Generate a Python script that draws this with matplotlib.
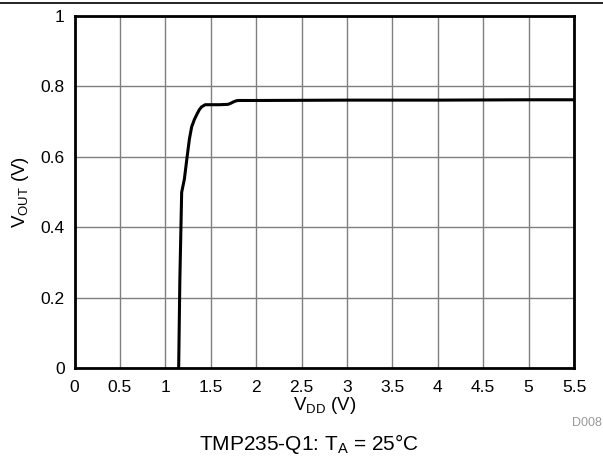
import matplotlib
matplotlib.use("Agg")
import matplotlib.pyplot as plt
from matplotlib.lines import Line2D

plt.rcParams['font.family'] = ['Liberation Sans', 'DejaVu Sans']
plt.rcParams['mathtext.fontset'] = 'custom'
plt.rcParams['mathtext.rm'] = 'Liberation Sans'
plt.rcParams['mathtext.it'] = 'Liberation Sans'

vdd = [1.147, 1.16, 1.18, 1.21, 1.24, 1.265, 1.29, 1.32, 1.35, 1.375, 1.40, 1.44, 1.5, 1.6, 1.69, 1.72, 1.75, 1.78, 1.80, 2.0, 3.0, 4.0, 5.0, 5.5]
vout = [0.0, 0.25, 0.499, 0.537, 0.60, 0.65, 0.685, 0.706, 0.722, 0.734, 0.742, 0.748, 0.748, 0.748, 0.749, 0.752, 0.756, 0.759, 0.760, 0.760, 0.761, 0.761, 0.762, 0.762]
xticks = [0, 0.5, 1, 1.5, 2, 2.5, 3, 3.5, 4, 4.5, 5, 5.5]
xticklabels = ['0', '0.5', '1', '1.5', '2', '2.5', '3', '3.5', '4', '4.5', '5', '5.5']
yticks = [0, 0.2, 0.4, 0.6, 0.8, 1]
yticklabels = ['0', '0.2', '0.4', '0.6', '0.8', '1']

W, H = 603, 457
fig = plt.figure(figsize=(W/100, H/100), dpi=100)
ax = fig.add_axes([74.5/W, 1-368/H, 499.5/W, 352/H])

ax.plot(vdd, vout, color='black', lw=2.2, solid_joinstyle='round')
ax.set_xlim(0, 5.5)
ax.set_ylim(0, 1)
ax.set_xticks(xticks)
ax.set_xticklabels(xticklabels)
ax.set_yticks(yticks)
ax.set_yticklabels(yticklabels)
ax.grid(True, color='#7f7f7f', lw=1)
ax.set_axisbelow(True)
for s in ax.spines.values():
    s.set_linewidth(2)
    s.set_color('black')
ax.tick_params(length=0, labelsize=12.5, colors='black')
ax.tick_params(axis='x', pad=9)
ax.tick_params(axis='y', pad=7)
ax.set_xlabel(r'V$_{\mathregular{DD}}$ (V)', fontsize=13.5, labelpad=0)
ax.set_ylabel(r'V$_{\mathregular{OUT}}$ (V)', fontsize=13.5, labelpad=7)

fig.text(602/W, 1-423/H, 'D008', fontsize=9, color='#999999', ha='right', va='center')
fig.text(309/W, 1-450/H, r'TMP235-Q1: T$_{\mathregular{A}}$ = 25°C', fontsize=15, ha='center', va='baseline')
fig.add_artist(Line2D([0, 1], [1-2.5/H, 1-2.5/H], color='black', lw=1.2, transform=fig.transFigure))

fig.savefig('out.png', dpi=100)
